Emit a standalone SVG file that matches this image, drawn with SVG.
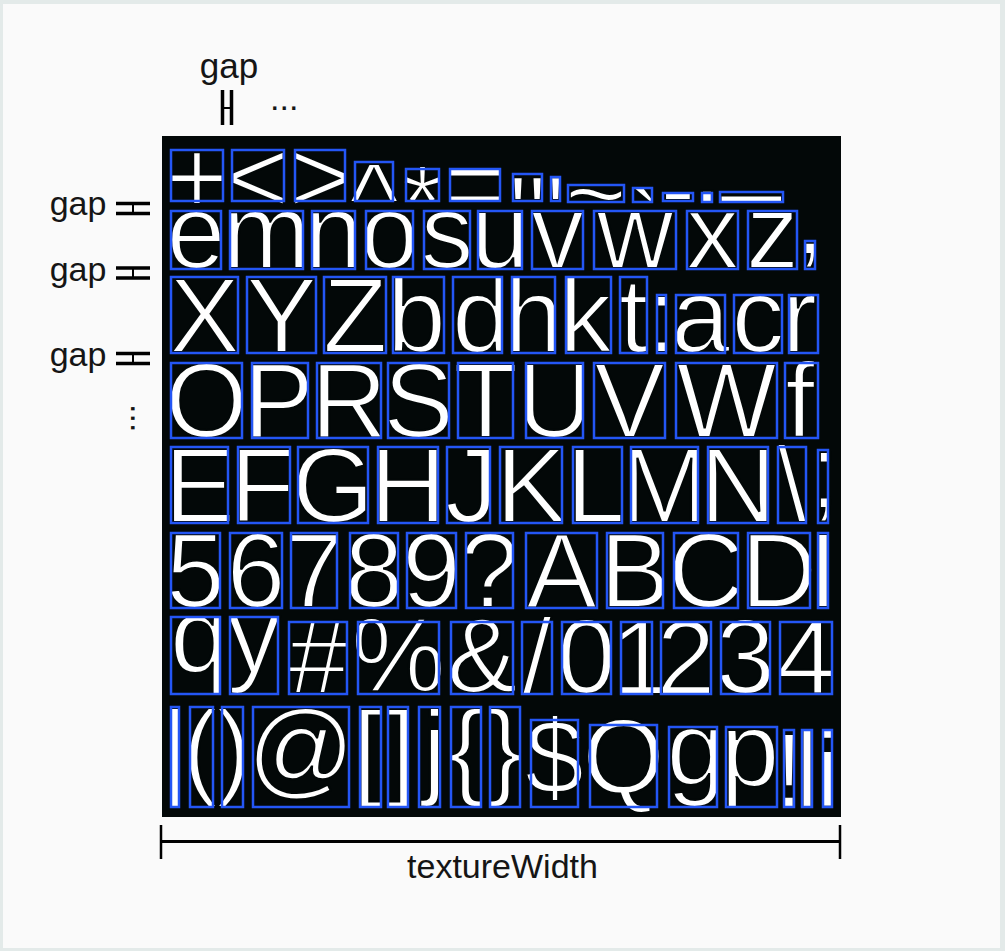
<svg xmlns="http://www.w3.org/2000/svg" width="1005" height="951" viewBox="0 0 1005 951">
<style>
.g{font-family:"Liberation Sans",Arial,sans-serif;font-size:106px;fill:#ffffff;stroke:#030808;stroke-width:2.2;text-anchor:middle}
.b{fill:none;stroke:#2456f5;stroke-width:2.5}
.lbl{font-family:"Liberation Sans",Arial,sans-serif;fill:#151515;text-anchor:middle}
.dim{stroke:#000;fill:none}
</style>
<rect x="0" y="0" width="1005" height="951" fill="#e3eae9"/>
<rect x="3" y="4" width="997" height="944" fill="#fafafa"/>
<g id="atlas">
<rect x="162" y="136" width="679" height="681" fill="#030808"/>
</g>
<!-- Row 1 -->
<g id="r1-plus"><text class="g" x="197" y="213">+</text><rect class="b" x="171" y="150" width="52" height="51"/></g>
<g id="r1-lt"><text class="g" x="258" y="213">&lt;</text><rect class="b" x="232" y="150" width="52" height="51"/></g>
<g id="r1-gt"><text class="g" x="320" y="213">&gt;</text><rect class="b" x="295" y="150" width="50" height="51"/></g>
<g id="r1-caret"><text class="g" x="374" y="237">^</text><rect class="b" x="355" y="162" width="38" height="39"/></g>
<g id="r1-star"><text class="g" x="422.5" y="239">*</text><rect class="b" x="406" y="169" width="33" height="32"/></g>
<g id="r1-eq"><text class="g" x="475" y="221">=</text><rect class="b" x="450" y="169" width="50" height="32"/></g>
<g id="r1-dq"><text class="g" x="527.5" y="250">"</text><rect class="b" x="513" y="174" width="29" height="27"/></g>
<g id="r1-sq"><text class="g" x="555.5" y="250">'</text><rect class="b" x="551" y="177" width="9" height="24"/></g>
<g id="r1-tilde"><text class="g" x="596" y="230">~</text><rect class="b" x="568" y="185" width="56" height="17"/></g>
<g id="r1-grave"><text class="g" x="644.5" y="264">`</text><rect class="b" x="633" y="188" width="19" height="14"/></g>
<g id="r1-minus"><text class="g" x="678" y="224">-</text><rect class="b" x="663" y="193" width="30" height="8"/></g>
<g id="r1-dot"><text class="g" x="707" y="202">.</text><rect class="b" x="702" y="193" width="10" height="9"/></g>
<g id="r1-us"><text class="g" x="751.5" y="181">_</text><rect class="b" x="720" y="192" width="63" height="10"/></g>
<!-- Row 2 -->
<g id="r2-e"><text class="g" x="196" y="268">e</text><rect class="b" x="171" y="211" width="50" height="58"/></g>
<g id="r2-m"><text class="g" x="266.5" y="268">m</text><rect class="b" x="230" y="211" width="73" height="58"/></g>
<g id="r2-n"><text class="g" x="333.5" y="268">n</text><rect class="b" x="312" y="211" width="43" height="58"/></g>
<g id="r2-o"><text class="g" x="389.5" y="268">o</text><rect class="b" x="366" y="211" width="47" height="58"/></g>
<g id="r2-s"><text class="g" x="447" y="268">s</text><rect class="b" x="424" y="211" width="46" height="58"/></g>
<g id="r2-u"><text class="g" x="500" y="268">u</text><rect class="b" x="478" y="211" width="44" height="58"/></g>
<g id="r2-v"><text class="g" x="557.5" y="268">v</text><rect class="b" x="532" y="211" width="51" height="58"/></g>
<g id="r2-w"><text class="g" x="635" y="268">w</text><rect class="b" x="594" y="211" width="82" height="58"/></g>
<g id="r2-x"><text class="g" x="712.5" y="268">x</text><rect class="b" x="687" y="211" width="51" height="58"/></g>
<g id="r2-z"><text class="g" x="772.5" y="268">z</text><rect class="b" x="748" y="211" width="49" height="58"/></g>
<g id="r2-comma"><text class="g" x="810" y="254">,</text><rect class="b" x="805" y="241" width="10" height="28"/></g>
<!-- Row 3 -->
<g id="r3-X"><text class="g" x="204.5" y="352">X</text><rect class="b" x="171" y="277" width="67" height="76"/></g>
<g id="r3-Y"><text class="g" x="281.5" y="352">Y</text><rect class="b" x="247" y="277" width="69" height="76"/></g>
<g id="r3-Z"><text class="g" x="355" y="352">Z</text><rect class="b" x="324" y="277" width="62" height="76"/></g>
<g id="r3-b"><text class="g" x="416.5" y="352">b</text><rect class="b" x="393" y="277" width="51" height="76"/></g>
<g id="r3-d"><text class="g" x="481.5" y="352">d</text><rect class="b" x="453" y="277" width="49" height="76"/></g>
<g id="r3-h"><text class="g" x="533.5" y="352">h</text><rect class="b" x="512" y="277" width="43" height="76"/></g>
<g id="r3-k"><text class="g" x="585.5" y="352">k</text><rect class="b" x="566" y="277" width="45" height="76"/></g>
<g id="r3-t"><text class="g" x="633.5" y="352">t</text><rect class="b" x="620" y="277" width="27" height="76"/></g>
<g id="r3-colon"><text class="g" x="661.5" y="352">:</text><rect class="b" x="657" y="295" width="9" height="58"/></g>
<g id="r3-a"><text class="g" x="700.5" y="352">a</text><rect class="b" x="676" y="295" width="49" height="58"/></g>
<g id="r3-c"><text class="g" x="758" y="352">c</text><rect class="b" x="734" y="295" width="48" height="58"/></g>
<g id="r3-r"><text class="g" x="799.5" y="352">r</text><rect class="b" x="789" y="295" width="29" height="58"/></g>
<!-- Row 4 -->
<g id="r4-O"><text class="g" x="206.5" y="437">O</text><rect class="b" x="171" y="363" width="71" height="75"/></g>
<g id="r4-P"><text class="g" x="278.5" y="437">P</text><rect class="b" x="252" y="363" width="56" height="75"/></g>
<g id="r4-R"><text class="g" x="349" y="437">R</text><rect class="b" x="317" y="363" width="64" height="75"/></g>
<g id="r4-S"><text class="g" x="418.5" y="437">S</text><rect class="b" x="388" y="363" width="61" height="75"/></g>
<g id="r4-T"><text class="g" x="485.5" y="437">T</text><rect class="b" x="458" y="363" width="55" height="75"/></g>
<g id="r4-U"><text class="g" x="554.5" y="437">U</text><rect class="b" x="526" y="363" width="57" height="75"/></g>
<g id="r4-V"><text class="g" x="629.5" y="437">V</text><rect class="b" x="594" y="363" width="71" height="75"/></g>
<g id="r4-W"><text class="g" x="726.5" y="437">W</text><rect class="b" x="676" y="363" width="101" height="75"/></g>
<g id="r4-f"><text class="g" x="800" y="437">f</text><rect class="b" x="785" y="363" width="33" height="75"/></g>
<!-- Row 5 -->
<g id="r5-E"><text class="g" x="199.5" y="522">E</text><rect class="b" x="171" y="447" width="57" height="76"/></g>
<g id="r5-F"><text class="g" x="262.3" y="522">F</text><rect class="b" x="238" y="447" width="52" height="76"/></g>
<g id="r5-G"><text class="g" x="333" y="522">G</text><rect class="b" x="298" y="447" width="70" height="76"/></g>
<g id="r5-H"><text class="g" x="408" y="522">H</text><rect class="b" x="378" y="447" width="60" height="76"/></g>
<g id="r5-J"><text class="g" x="471.5" y="522">J</text><rect class="b" x="447" y="447" width="43" height="76"/></g>
<g id="r5-K"><text class="g" x="531" y="522">K</text><rect class="b" x="500" y="447" width="62" height="76"/></g>
<g id="r5-L"><text class="g" x="595.5" y="522">L</text><rect class="b" x="573" y="447" width="49" height="76"/></g>
<g id="r5-M"><text class="g" x="664.5" y="522">M</text><rect class="b" x="631" y="447" width="67" height="76"/></g>
<g id="r5-N"><text class="g" x="738" y="522">N</text><rect class="b" x="708" y="447" width="60" height="76"/></g>
<g id="r5-bslash"><text class="g" x="792" y="521">\</text><rect class="b" x="778" y="447" width="28" height="76"/></g>
<g id="r5-semi"><text class="g" x="824.7" y="508">;</text><rect class="b" x="818" y="450" width="10" height="73"/></g>
<!-- Row 6 -->
<g id="r6-5"><text class="g" x="195.5" y="607">5</text><rect class="b" x="171" y="533" width="49" height="75"/></g>
<g id="r6-6"><text class="g" x="256" y="607">6</text><rect class="b" x="230" y="533" width="52" height="75"/></g>
<g id="r6-7"><text class="g" x="314" y="607">7</text><rect class="b" x="291" y="533" width="46" height="75"/></g>
<g id="r6-8"><text class="g" x="374" y="607">8</text><rect class="b" x="350" y="533" width="48" height="75"/></g>
<g id="r6-9"><text class="g" x="431.5" y="607">9</text><rect class="b" x="407" y="533" width="49" height="75"/></g>
<g id="r6-q"><text class="g" x="489.5" y="607">?</text><rect class="b" x="466" y="533" width="47" height="75"/></g>
<g id="r6-A"><text class="g" x="561.5" y="607">A</text><rect class="b" x="526" y="533" width="71" height="75"/></g>
<g id="r6-B"><text class="g" x="635" y="607">B</text><rect class="b" x="607" y="533" width="56" height="75"/></g>
<g id="r6-C"><text class="g" x="706" y="607">C</text><rect class="b" x="674" y="533" width="64" height="75"/></g>
<g id="r6-D"><text class="g" x="779" y="607">D</text><rect class="b" x="748" y="533" width="62" height="75"/></g>
<g id="r6-I"><text class="g" x="823" y="607">I</text><rect class="b" x="818" y="533" width="10" height="75"/></g>
<!-- Row 7 -->
<g id="r7-q"><text class="g" x="199.5" y="672">q</text><rect class="b" x="171" y="617" width="49" height="77"/></g>
<g id="r7-y"><text class="g" x="254" y="672">y</text><rect class="b" x="230" y="617" width="48" height="77"/></g>
<g id="r7-hash"><text class="g" x="318" y="693">#</text><rect class="b" x="289" y="622" width="58" height="72"/></g>
<g id="r7-pct"><text class="g" x="398.5" y="691">%</text><rect class="b" x="358" y="622" width="81" height="72"/></g>
<g id="r7-amp"><text class="g" x="482" y="692">&amp;</text><rect class="b" x="451" y="622" width="62" height="72"/></g>
<g id="r7-slash"><text class="g" x="537" y="693">/</text><rect class="b" x="522" y="622" width="30" height="72"/></g>
<g id="r7-0"><text class="g" x="586.5" y="693">0</text><rect class="b" x="562" y="622" width="49" height="72"/></g>
<g id="r7-1"><text class="g" x="640.5" y="694">1</text><rect class="b" x="621" y="622" width="31" height="72"/></g>
<g id="r7-2"><text class="g" x="686" y="694">2</text><rect class="b" x="661" y="622" width="50" height="72"/></g>
<g id="r7-3"><text class="g" x="745.5" y="693">3</text><rect class="b" x="721" y="622" width="49" height="72"/></g>
<g id="r7-4"><text class="g" x="806" y="694">4</text><rect class="b" x="780" y="622" width="52" height="72"/></g>
<!-- Row 8 -->
<g id="r8-bar"><text class="g" x="175" y="785">|</text><rect class="b" x="171" y="707" width="8" height="100"/></g>
<g id="r8-lp"><text class="g" x="200.2" y="785">(</text><rect class="b" x="190" y="707" width="23" height="100"/></g>
<g id="r8-rp"><text class="g" x="233.8" y="785">)</text><rect class="b" x="222" y="707" width="21" height="100"/></g>
<g id="r8-at"><text class="g" x="301" y="785">@</text><rect class="b" x="253" y="707" width="96" height="100"/></g>
<g id="r8-lb"><text class="g" x="367.5" y="786">[</text><rect class="b" x="360" y="707" width="21" height="100"/></g>
<g id="r8-rb"><text class="g" x="401" y="786">]</text><rect class="b" x="388" y="707" width="20" height="100"/></g>
<g id="r8-j"><text class="g" x="434.5" y="785">j</text><rect class="b" x="419" y="707" width="21" height="100"/></g>
<g id="r8-lc"><text class="g" x="466" y="785">{</text><rect class="b" x="451" y="707" width="30" height="100"/></g>
<g id="r8-rc"><text class="g" x="505" y="785">}</text><rect class="b" x="490" y="707" width="30" height="100"/></g>
<g id="r8-dollar"><text class="g" x="554.5" y="794">$</text><rect class="b" x="531" y="720" width="47" height="87"/></g>
<g id="r8-Q"><text class="g" x="623.5" y="793">Q</text><rect class="b" x="590" y="725" width="67" height="82"/></g>
<g id="r8-g"><text class="g" x="696" y="785">g</text><rect class="b" x="669" y="727" width="48" height="80"/></g>
<g id="r8-p"><text class="g" x="750" y="786">p</text><rect class="b" x="726" y="727" width="51" height="80"/></g>
<g id="r8-excl"><text class="g" x="789" y="807">!</text><rect class="b" x="784" y="730" width="10" height="77"/></g>
<g id="r8-l"><text class="g" x="807" y="807">l</text><rect class="b" x="802" y="730" width="10" height="77"/></g>
<g id="r8-i"><text class="g" x="827.5" y="807">i</text><rect class="b" x="823" y="730" width="9" height="77"/></g>
<!-- Annotations -->
<g id="gap-top">
<text class="lbl" x="229" y="78" font-size="35">gap</text>
<path class="dim" stroke-width="3.5" d="M222.5,90V125M231.5,90V125"/>
<path class="dim" stroke-width="2" d="M222.5,108H231.5"/>
</g>
<g id="ellipsis-top"><text x="270" y="110" font-family="Liberation Sans, Arial, sans-serif" font-size="34" fill="#151515">...</text></g>
<g id="gap-left-1">
<text class="lbl" x="78" y="215" font-size="34">gap</text>
<path class="dim" stroke-width="3.5" d="M116,203.5H150M116,213.5H150"/>
<path class="dim" stroke-width="2" d="M133,203.5V213.5"/>
</g>
<g id="gap-left-2">
<text class="lbl" x="78" y="281" font-size="34">gap</text>
<path class="dim" stroke-width="3.5" d="M116,268H150M116,278H150"/>
<path class="dim" stroke-width="2" d="M133,268V278"/>
</g>
<g id="gap-left-3">
<text class="lbl" x="78" y="366" font-size="34">gap</text>
<path class="dim" stroke-width="3.5" d="M116,353.5H150M116,363.5H150"/>
<path class="dim" stroke-width="2" d="M133,353.5V363.5"/>
</g>
<g id="ellipsis-left"><text transform="translate(131,404) rotate(90)" font-family="Liberation Sans, Arial, sans-serif" font-size="34" fill="#151515">...</text></g>
<g id="connectors">
<path class="dim" stroke-width="3" d="M161,841.5H840"/>
<path class="dim" stroke-width="2.5" d="M161,825V859M840,825V859"/>
</g>
<g id="texture-width"><text class="lbl" x="502.5" y="878" font-size="34">textureWidth</text></g>
</svg>
